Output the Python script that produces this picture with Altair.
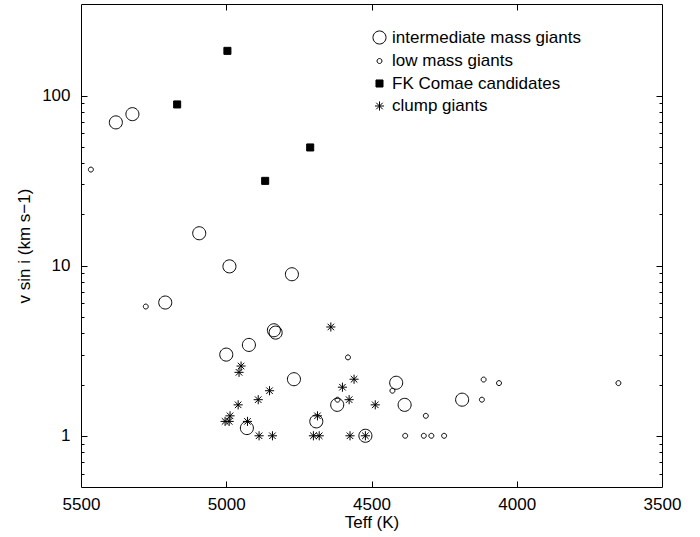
import altair as alt
import pandas as pd

GROUPS = ["intermediate mass giants", "low mass giants", "FK Comae candidates", "clump giants"]

IM_TEFF = [5380, 5323, 5093, 5210, 4989, 4774, 5000, 4922, 4836, 4830, 4767, 4929, 4690, 4618, 4521, 4415, 4386, 4188]
IM_VSINI = [69.5, 77.7, 15.5, 6.07, 9.9, 8.9, 3.0, 3.42, 4.17, 4.04, 2.15, 1.11, 1.215, 1.52, 1.0, 2.05, 1.52, 1.63]

LM_TEFF = [5466, 5277, 4581, 4617, 4428, 4313, 4384, 4320, 4294, 4250, 4114, 4061, 4120, 3650]
LM_VSINI = [36.7, 5.75, 2.89, 1.63, 1.84, 1.31, 1.0, 1.0, 1.0, 1.0, 2.14, 2.04, 1.63, 2.04]

FK_TEFF = [4996, 5169, 4711, 4866]
FK_VSINI = [183, 88.6, 49.5, 31.5]

CL_TEFF = [4640, 4949, 4956, 4851, 4890, 4959, 4987, 5004, 4990, 4927, 4887, 4841,
           4686, 4700, 4680, 4600, 4560, 4577, 4487, 4574, 4521]
CL_VSINI = [4.36, 2.57, 2.36, 1.84, 1.63, 1.52, 1.31, 1.215, 1.215, 1.215, 1.0, 1.0,
            1.31, 1.0, 1.0, 1.93, 2.15, 1.63, 1.52, 1.0, 1.0]

X_TICKS = [5500, 5000, 4500, 4000, 3500]
X_INNER_TICKS = [5000, 4500, 4000]
Y_MAJOR = [1, 10, 100]
Y_MINOR = [0.6, 0.7, 0.8, 0.9, 2, 3, 4, 5, 6, 7, 8, 9, 20, 30, 40, 50, 60, 70, 80, 90]


def circle_path(r):
    return f"M{-r},0A{r},{r} 0 1,0 {r},0A{r},{r} 0 1,0 {-r},0Z"


# symbol shapes drawn inside the unit box (one common symbol size)
SHAPES_ = [
    circle_path(1.0),
    circle_path(0.38),
    "M-0.54,-0.54L0.54,-0.54L0.54,0.54L-0.54,0.54Z",
    "M-0.7,0L0.7,0M0,-0.7L0,0.7M-0.5,-0.5L0.5,0.5M-0.5,0.5L0.5,-0.5",
]
FILLS = ["transparent", "transparent", "black", "transparent"]
STROKES = ["black", "black", "black", "black"]
SYMBOL_SIZE = 170

rows = []
for gi, (ts, vs) in enumerate([(IM_TEFF, IM_VSINI), (LM_TEFF, LM_VSINI),
                                (FK_TEFF, FK_VSINI), (CL_TEFF, CL_VSINI)]):
    for t, v in zip(ts, vs):
        rows.append({"teff": t, "vsini": v, "group": GROUPS[gi]})
df = pd.DataFrame(rows)

W, H = 581, 483
FONT = "Liberation Sans"

xscale = alt.Scale(domain=[3500, 5500], reverse=True, nice=False, zero=False)
yscale = alt.Scale(type="log", domain=[0.5, 345], nice=False)

base = alt.Chart(df)

points = base.mark_point(strokeWidth=1, opacity=1, size=SYMBOL_SIZE).encode(
    x=alt.X("teff:Q", scale=xscale,
            axis=alt.Axis(title="Teff (K)", values=X_TICKS, ticks=False, domain=False, grid=False,
                          labelPadding=9, titlePadding=2, format="d", labelFlush=False,
                          labelOverlap=False)),
    y=alt.Y("vsini:Q", scale=yscale,
            axis=alt.Axis(title="v sin i (km s−1)", values=Y_MAJOR, ticks=False, domain=False,
                          grid=False, labelPadding=11, titlePadding=8, format="d",
                          labelOverlap=False)),
    shape=alt.Shape("group:N", scale=alt.Scale(domain=GROUPS, range=SHAPES_),
                    legend=alt.Legend(title=None, orient="none", legendX=290, legendY=25,
                                      labelFont=FONT, labelFontSize=17, labelLimit=500,
                                      symbolStrokeWidth=1, symbolSize=SYMBOL_SIZE,
                                      rowPadding=4.5, labelOffset=4, padding=0)),
    fill=alt.Fill("group:N", scale=alt.Scale(domain=GROUPS, range=FILLS)),
    stroke=alt.Stroke("group:N", scale=alt.Scale(domain=GROUPS, range=STROKES)),
)


def tick_layer(xaxis, yaxis):
    return base.mark_point(opacity=0).encode(
        x=alt.X("teff:Q", scale=xscale, axis=xaxis),
        y=alt.Y("vsini:Q", scale=yscale, axis=yaxis),
    )


def tick_axis(orient, offset, values, size):
    return alt.Axis(orient=orient, offset=offset, values=values, labels=False, ticks=True,
                    tickSize=size, tickColor="black", tickWidth=1, domain=False, grid=False,
                    title=None)


layers = [
    points,
    tick_layer(tick_axis("top", -H, X_INNER_TICKS, 6), tick_axis("right", -W, Y_MAJOR, 6)),
    tick_layer(tick_axis("bottom", -H, X_INNER_TICKS, 6), tick_axis("left", -W, Y_MAJOR, 6)),
    tick_layer(None, tick_axis("right", -W, Y_MINOR, 3)),
    tick_layer(None, tick_axis("left", -W, Y_MINOR, 3)),
]

chart = alt.layer(*layers).resolve_axis(x="independent", y="independent").properties(
    width=W, height=H,
    padding={"left": 81, "top": 4, "right": 38, "bottom": 50},
    autosize=alt.AutoSizeParams(type="none"),
    background="white",
).configure_view(stroke="black", strokeWidth=1).configure_axis(
    labelFont=FONT, titleFont=FONT, labelFontSize=17, titleFontSize=17,
    titleFontWeight="normal", labelColor="black", titleColor="black",
)

chart.save("out.html", embed_options={"renderer": "svg", "actions": False})
